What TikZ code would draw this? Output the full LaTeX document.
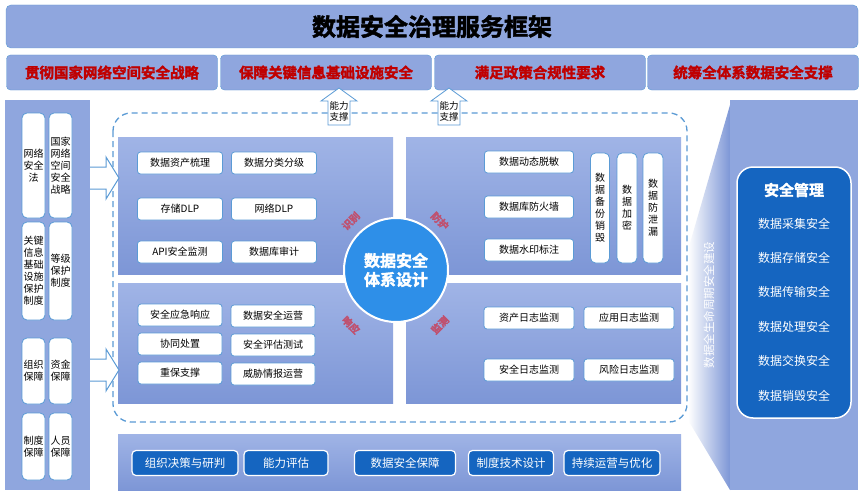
\documentclass[tikz,border=0pt]{standalone}
\usepackage{fontspec}
\setmainfont{Noto Sans CJK SC}
\newfontfamily\cjkb[FakeBold=2]{Noto Sans CJK SC Bold}
\usetikzlibrary{shapes.arrows}
\definecolor{pan}{HTML}{8FA6DE}
\definecolor{panl}{HTML}{A0B4E6}
\definecolor{pand}{HTML}{7D96D6}
\definecolor{edge}{HTML}{5B9BD5}
\definecolor{dk}{HTML}{1565C0}
\definecolor{rd}{HTML}{C00000}
\definecolor{lab}{HTML}{C0506E}
\definecolor{circ}{HTML}{2E8FE8}
\tikzset{
 wbox/.style={draw=edge,line width=0.8pt,fill=white,rounded corners=3pt,minimum height=22pt,font=\fontsize{10}{11}\selectfont,inner sep=1pt},
 vbox/.style={draw=edge,line width=0.8pt,fill=white,rounded corners=5pt,align=center,font=\fontsize{10}{12}\selectfont,inner sep=0pt},
 dbox/.style={draw=white,line width=1.2pt,fill=dk,rounded corners=4pt,minimum height=25pt,text=white,font=\fontsize{11.5}{12}\selectfont,inner sep=1pt},
 quad/.style={top color=panl,bottom color=pand,draw=none},
 redbox/.style={draw=edge,fill=pan,rounded corners=4pt,minimum height=35pt,minimum width=211pt,text=rd,font=\cjkb\fontsize{14.5}{15}\selectfont},
 rlab/.style={text=lab,font=\cjkb\fontsize{10}{11}\selectfont,inner sep=0pt},
 upar/.style={draw=edge,line width=0.8pt,fill=white},
}
\begin{document}
\begin{tikzpicture}[x=1pt,y=-1pt]
\useasboundingbox[fill=white] (0,0) rectangle (862,495);
% title
\node[draw=edge,fill=pan,rounded corners=5pt,minimum width=852pt,minimum height=43pt,font=\cjkb\fontsize{24}{25}\selectfont] (title) at (432,26.5) {数据安全治理服务框架};
\node[redbox] (r1) at (112,72.5) {贯彻国家网络空间安全战略};
\node[redbox] (r2) at (326,72.5) {保障关键信息基础设施安全};
\node[redbox] (r3) at (540,72.5) {满足政策合规性要求};
\node[redbox] (r4) at (753,72.5) {统筹全体系数据安全支撑};
% left panel
\fill[pan] (5,100) rectangle (90,490);
\node[vbox,minimum width=23pt,minimum height=105pt] (l1) at (33.5,165.5) {网络\\安全\\法};
\node[vbox,minimum width=23pt,minimum height=105pt] (l2) at (60.5,165.5) {国家\\网络\\空间\\安全\\战略};
\node[vbox,minimum width=23pt,minimum height=98pt] (l3) at (33.5,271) {关键\\信息\\基础\\设施\\保护\\制度};
\node[vbox,minimum width=23pt,minimum height=98pt] (l4) at (60.5,271) {等级\\保护\\制度};
\node[vbox,minimum width=23pt,minimum height=66pt] (l5) at (33.5,371) {组织\\保障};
\node[vbox,minimum width=23pt,minimum height=66pt] (l6) at (60.5,371) {资金\\保障};
\node[vbox,minimum width=23pt,minimum height=67pt] (l7) at (33.5,446.5) {制度\\保障};
\node[vbox,minimum width=23pt,minimum height=67pt] (l8) at (60.5,446.5) {人员\\保障};
% right wedge and panel
\shade[left color=white,right color=pand] (688,250) -- (730,105) -- (730,490) -- (688,420) -- cycle;
\fill[pan] (730,100) rectangle (858,490);
\node[rotate=90,text=white,font=\fontsize{11.5}{12}\selectfont] (life) at (709,305) {数据全生命周期安全建设};
% dashed frame
\draw[edge,dashed,dash pattern=on 6pt off 4pt,line width=1.3pt,rounded corners=18pt] (113,113) rectangle (687,422);
% quadrants
\fill[quad] (118,137) rectangle (393,274);
\fill[quad] (406,137) rectangle (681,274);
\fill[quad] (118,283) rectangle (393,403);
\fill[quad] (406,283) rectangle (681,403);
% capability arrows
\draw[upar] (339,88) -- (357,101) -- (350,101) -- (350,125) -- (328,125) -- (328,101) -- (321,101) -- cycle;
\node[font=\fontsize{9.5}{11}\selectfont,align=center,inner sep=0pt] (c1) at (339,111) {能力\\支撑};
\draw[upar] (449,88) -- (467,101) -- (460,101) -- (460,125) -- (438,125) -- (438,101) -- (431,101) -- cycle;
\node[font=\fontsize{9.5}{11}\selectfont,align=center,inner sep=0pt] (c2) at (449,111) {能力\\支撑};
% left arrows
\draw[upar,line width=1pt] (90,167) -- (106,167) -- (106,157) -- (119,178) -- (106,199) -- (106,189) -- (90,189);
\draw[upar,line width=1pt] (90,359) -- (106,359) -- (106,349) -- (119,370) -- (106,391) -- (106,381) -- (90,381);
% TL
\node[wbox,minimum width=85pt] (t1) at (180,163) {数据资产梳理};
\node[wbox,minimum width=85pt] (t2) at (274,163) {数据分类分级};
\node[wbox,minimum width=85pt] (t3) at (180,209) {存储DLP};
\node[wbox,minimum width=85pt] (t4) at (274,209) {网络DLP};
\node[wbox,minimum width=85pt] (t5) at (180,252) {API安全监测};
\node[wbox,minimum width=85pt] (t6) at (274,252) {数据库审计};
% TR
\node[wbox,minimum width=89pt] (p1) at (529,162) {数据动态脱敏};
\node[wbox,minimum width=89pt] (p2) at (529,207) {数据库防火墙};
\node[wbox,minimum width=89pt] (p3) at (529,250) {数据水印标注};
\node[vbox,minimum width=19pt,minimum height=110pt] (v1) at (600,208) {数\\据\\备\\份\\销\\毁};
\node[vbox,minimum width=20pt,minimum height=110pt] (v2) at (627,208) {数\\据\\加\\密};
\node[vbox,minimum width=20pt,minimum height=110pt] (v3) at (653,208) {数\\据\\防\\泄\\漏};
% BL
\node[wbox,minimum width=84pt] (b1) at (180,315) {安全应急响应};
\node[wbox,minimum width=84pt] (b2) at (180,344) {协同处置};
\node[wbox,minimum width=84pt] (b3) at (180,373) {重保支撑};
\node[wbox,minimum width=84pt] (b4) at (273,316) {数据安全运营};
\node[wbox,minimum width=84pt] (b5) at (273,345) {安全评估测试};
\node[wbox,minimum width=84pt] (b6) at (273,374) {威胁情报运营};
% BR
\node[wbox,minimum width=90pt] (m1) at (529,318) {资产日志监测};
\node[wbox,minimum width=90pt] (m2) at (629,318) {应用日志监测};
\node[wbox,minimum width=90pt] (m3) at (529,370) {安全日志监测};
\node[wbox,minimum width=90pt] (m4) at (629,370) {风险日志监测};
% circle
\node[circle,draw=white,line width=2pt,fill=circ,minimum size=104pt,text=white,align=center,font=\cjkb\fontsize{16}{19}\selectfont] (core) at (396,270) {数据安全\\体系设计};
\node[rlab,rotate=45] (k1) at (351,221) {识别};
\node[rlab,rotate=-45] (k2) at (440,221) {防护};
\node[rlab,rotate=-45] (k3) at (351,325) {响应};
\node[rlab,rotate=45] (k4) at (440,325) {监测};
% security management
\node[draw=white,line width=1.5pt,fill=dk,rounded corners=16pt,minimum width=114pt,minimum height=251pt] (mg) at (794,292.5) {};
\node[text=white,font=\cjkb\fontsize{15}{16}\selectfont] (mgt) at (794,190) {安全管理};
\foreach \t [count=\i] in {数据采集安全,数据存储安全,数据传输安全,数据处理安全,数据交换安全,数据销毁安全}
  \node[text=white,font=\fontsize{12}{13}\selectfont] (s\i) at (794,189+34.4*\i) {\t};
% bottom
\fill[quad] (118,434) rectangle (681,490);
\node[dbox,minimum width=106pt] (d1) at (185,463) {组织决策与研判};
\node[dbox,minimum width=84pt] (d2) at (286,463) {能力评估};
\node[dbox,minimum width=101pt] (d3) at (405,463) {数据安全保障};
\node[dbox,minimum width=85pt] (d4) at (511,463) {制度技术设计};
\node[dbox,minimum width=96pt] (d5) at (612,463) {持续运营与优化};
\end{tikzpicture}
\end{document}
